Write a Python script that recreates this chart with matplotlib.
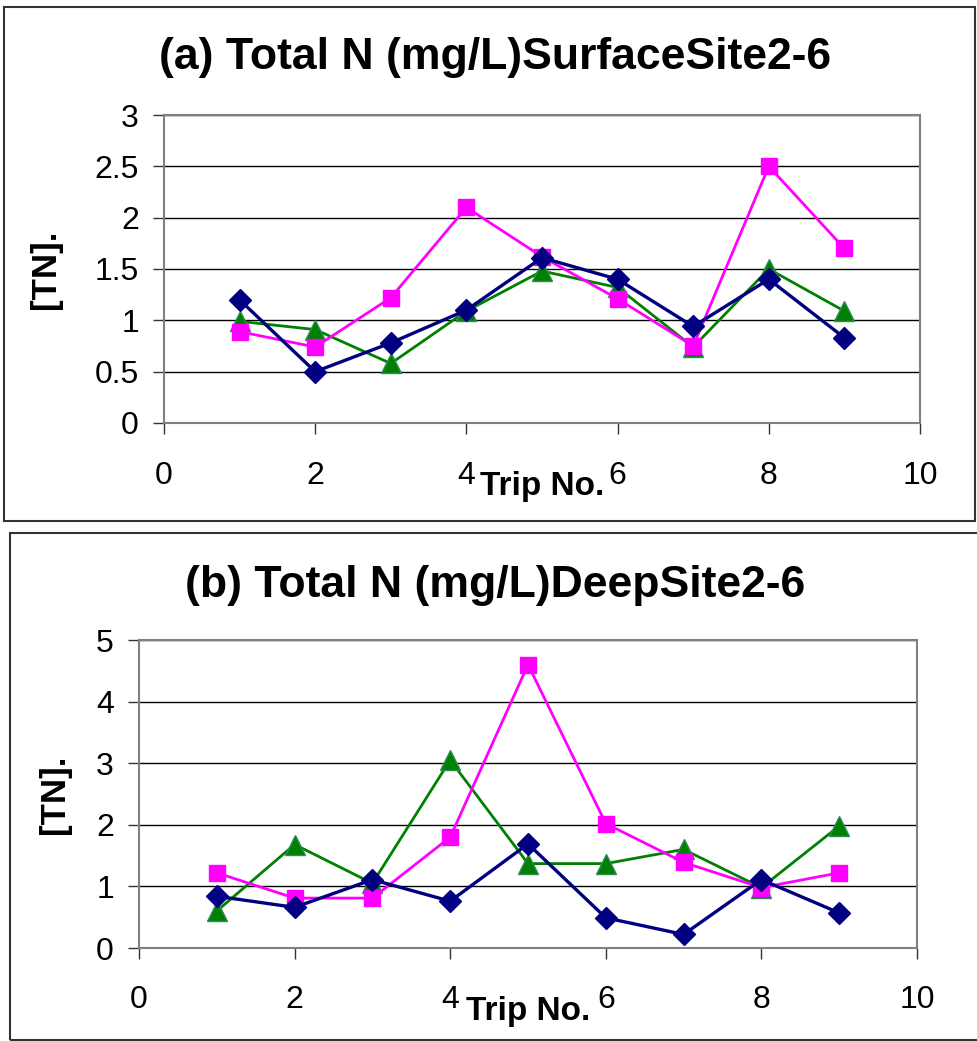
import matplotlib
matplotlib.use("Agg")
import matplotlib.pyplot as plt
from matplotlib.patches import Rectangle

plt.rcParams['font.family'] = ['Liberation Sans', 'DejaVu Sans']

# trip numbers
trips = [1, 2, 3, 4, 5, 6, 7, 8, 9]

# (a) surface values
surf_blue = [1.2, 0.5, 0.78, 1.1, 1.61, 1.4, 0.94, 1.4, 0.83]
surf_pink = [0.89, 0.74, 1.22, 2.1, 1.62, 1.21, 0.75, 2.5, 1.7]
surf_green = [0.99, 0.91, 0.58, 1.09, 1.48, 1.32, 0.74, 1.5, 1.09]

# (b) deep values
deep_blue = [0.84, 0.66, 1.11, 0.76, 1.69, 0.49, 0.22, 1.11, 0.57]
deep_pink = [1.22, 0.81, 0.81, 1.8, 4.6, 2.02, 1.39, 0.98, 1.22]
deep_green = [0.6, 1.68, 1.05, 3.05, 1.37, 1.37, 1.6, 0.98, 1.98]

xticks = [0, 2, 4, 6, 8, 10]
yticks_a = [0, 0.5, 1, 1.5, 2, 2.5, 3]
yticks_b = [0, 1, 2, 3, 4, 5]

W, H = 978, 1041
fig = plt.figure(figsize=(W / 100, H / 100), dpi=100)

# panel frames
fig.patches.append(Rectangle((4 / W, 1 - 521 / H), 971 / W, 514 / H,
                             transform=fig.transFigure, fill=False,
                             edgecolor='#333333', lw=1.5))
fig.patches.append(Rectangle((10 / W, 0.001), 990 / W, 507 / H,
                             transform=fig.transFigure, fill=False,
                             edgecolor='#333333', lw=1.5))


def draw(ax, blue, pink, green, yticks, ytop, title, title_y, ylab_x):
    ax.plot(trips, green, color='#008000', lw=2, marker='^', ms=14,
            mfc='#008000', mec='#2E8B57', zorder=3)
    ax.plot(trips, pink, color='#FF00FF', lw=2, marker='s', ms=12,
            mfc='#FF00FF', mec='#FF00FF', zorder=4)
    ax.plot(trips, blue, color='#000080', lw=2.4, marker='D', ms=11,
            mfc='#000080', mec='#000080', zorder=5)
    ax.set_xlim(0, 10)
    ax.set_ylim(0, ytop)
    ax.set_xticks(xticks)
    ax.set_yticks(yticks)
    ax.set_yticklabels([f"{v:g}" for v in yticks])
    ax.grid(axis='y', color='black', lw=1)
    ax.set_axisbelow(True)
    for s in ax.spines.values():
        s.set_color('#808080')
        s.set_linewidth(1.5)
    ax.tick_params(axis='both', direction='out', length=8, width=1,
                   color='#333333', labelsize=23)
    ax.tick_params(axis='x', pad=19)
    ax.tick_params(axis='y', pad=10)
    ax.set_xlabel("Trip No.", fontsize=24, fontweight='bold')
    ax.xaxis.set_label_coords(0.5, -0.155)
    ax.xaxis.label.set_va('top')
    ax.set_ylabel("[TN].", fontsize=25, fontweight='bold')
    ax.yaxis.set_label_coords(ylab_x, 0.5)
    fig.text(0.506, title_y, title, ha='center', va='center',
             fontsize=32, fontweight='bold')


ax1 = fig.add_axes([164 / W, 1 - 423 / H, 756 / W, 308 / H])
draw(ax1, surf_blue, surf_pink, surf_green, yticks_a, 3,
     "(a) Total N (mg/L)SurfaceSite2-6", 1 - 57 / H, -0.135)

ax2 = fig.add_axes([139 / W, 1 - 948 / H, 778 / W, 308 / H])
draw(ax2, deep_blue, deep_pink, deep_green, yticks_b, 5,
     "(b) Total N (mg/L)DeepSite2-6", 1 - 585 / H, -0.088)

fig.savefig("out.png", dpi=100)
